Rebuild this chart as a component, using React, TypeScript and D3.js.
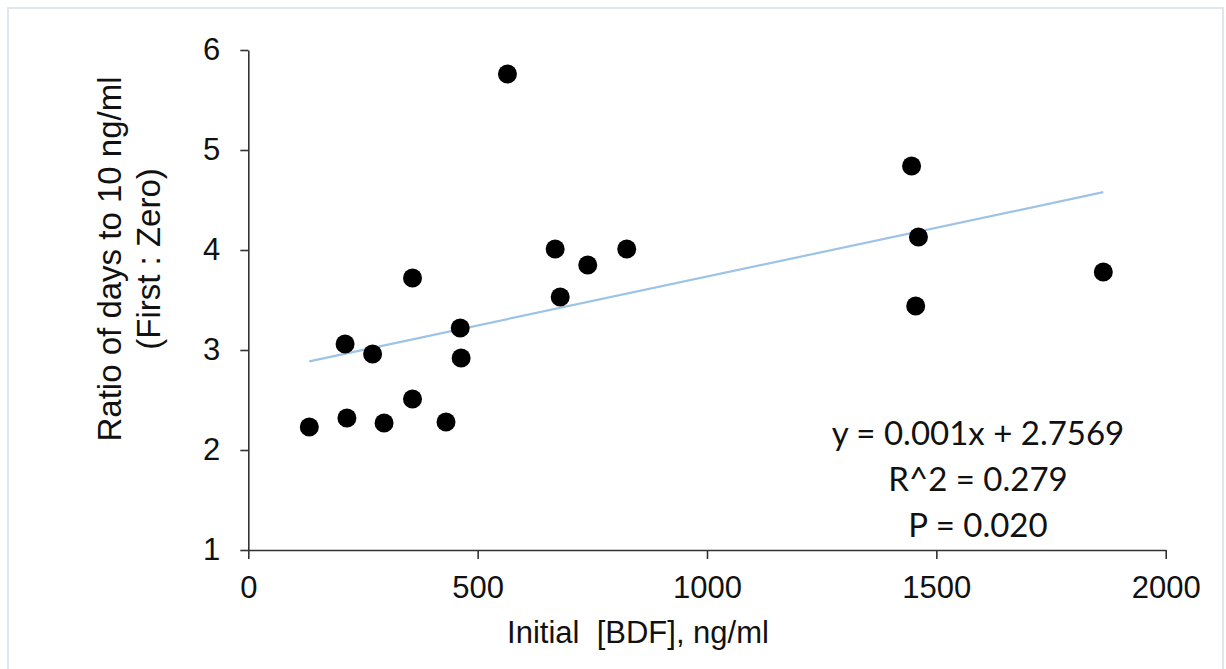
import React, { useEffect, useRef } from "react";
import * as d3 from "d3";

// initial BDF (ng/ml) and ratio of days to 10 ng/ml
const bdfValues = [133, 211, 215, 271, 296, 358, 358, 431, 462, 464, 565, 669, 680, 740, 825, 1446, 1455, 1461, 1864];
const ratioValues = [2.23, 3.06, 2.32, 2.96, 2.27, 3.72, 2.51, 2.28, 3.22, 2.92, 5.76, 4.01, 3.53, 3.85, 4.01, 4.84, 3.44, 4.13, 3.78];

const xTicks = [0, 500, 1000, 1500, 2000];
const yTicks = [1, 2, 3, 4, 5, 6];

const trendSlope = 0.000977;
const trendIntercept = 2.7569;

const statLines = ["y = 0.001x + 2.7569", "R^2 = 0.279", "P = 0.020"];

const App = () => {
  const svgRef = useRef<SVGSVGElement>(null);

  useEffect(() => {
    const svg = d3.select(svgRef.current);
    svg.selectAll("*").remove();

    const width = 1226;
    const height = 669;
    const font = "'Liberation Sans', Arial, sans-serif";

    svg.append("rect")
      .attr("x", 0).attr("y", 0)
      .attr("width", width).attr("height", height)
      .attr("fill", "#fff");

    // light frame
    svg.append("rect")
      .attr("x", 8).attr("y", 8)
      .attr("width", 1215).attr("height", 680)
      .attr("fill", "#fff")
      .attr("stroke", "#e1e5ee")
      .attr("stroke-width", 2);

    const x = d3.scaleLinear().domain([0, 2000]).range([248.3, 1165.7]);
    const y = d3.scaleLinear().domain([1, 6]).range([550, 50]);

    // y axis
    const yAxis = svg.append("g")
      .attr("transform", `translate(${x(0)},0)`)
      .call(d3.axisLeft(y).tickValues(yTicks).tickFormat(d3.format("d")).tickSize(8).tickSizeOuter(0).tickPadding(20));
    yAxis.select(".domain").attr("stroke", "#333").attr("stroke-width", 1.6);
    yAxis.selectAll(".tick line").attr("stroke", "#333").attr("stroke-width", 1.6);
    yAxis.selectAll(".tick text")
      .attr("font-family", font)
      .attr("font-size", 31)
      .attr("fill", "#111");

    // x axis
    const xAxis = svg.append("g")
      .attr("transform", `translate(0,${y(1)})`)
      .call(d3.axisBottom(x).tickValues(xTicks).tickFormat(d3.format("d")).tickSize(9).tickSizeOuter(0).tickPadding(17));
    xAxis.select(".domain").attr("stroke", "#333").attr("stroke-width", 1.6);
    xAxis.selectAll(".tick line").attr("stroke", "#333").attr("stroke-width", 1.6);
    xAxis.selectAll(".tick text")
      .attr("font-family", font)
      .attr("font-size", 31)
      .attr("fill", "#111");

    // axis titles
    svg.append("text")
      .attr("x", 638).attr("y", 643)
      .attr("text-anchor", "middle")
      .attr("font-family", font)
      .attr("font-size", 31)
      .attr("fill", "#111")
      .attr("xml:space", "preserve")
      .style("white-space", "pre")
      .text("Initial  [BDF], ng/ml");

    const yTitle = svg.append("g").attr("transform", "translate(121,259) rotate(-90)");
    yTitle.append("text")
      .attr("text-anchor", "middle")
      .attr("font-family", font)
      .attr("font-size", 33)
      .attr("fill", "#111")
      .text("Ratio of days to 10 ng/ml");
    yTitle.append("text")
      .attr("y", 39)
      .attr("text-anchor", "middle")
      .attr("font-family", font)
      .attr("font-size", 33)
      .attr("fill", "#111")
      .text("(First : Zero)");

    // trend line
    const xMin = d3.min(bdfValues) as number;
    const xMax = d3.max(bdfValues) as number;
    const line = d3.line<number>()
      .x((d) => x(d))
      .y((d) => y(trendSlope * d + trendIntercept));
    svg.append("path")
      .attr("d", line([xMin, xMax]))
      .attr("fill", "none")
      .attr("stroke", "#9dc3e6")
      .attr("stroke-width", 2.2);

    // points
    svg.selectAll(".point")
      .data(bdfValues)
      .enter()
      .append("circle")
      .attr("class", "point")
      .attr("cx", (d) => x(d))
      .attr("cy", (_, i) => y(ratioValues[i]))
      .attr("r", 9.5)
      .attr("fill", "#000");

    // regression stats
    svg.selectAll(".stat")
      .data(statLines)
      .enter()
      .append("text")
      .attr("class", "stat")
      .attr("x", 978)
      .attr("y", (_, i) => 445 + i * 46)
      .attr("text-anchor", "middle")
      .attr("font-family", "Lato, 'Open Sans', sans-serif")
      .attr("font-size", 33)
      .attr("fill", "#111")
      .text((d) => d);
  }, []);

  return (
    <svg
      ref={svgRef}
      width={1226}
      height={669}
      style={{ position: "absolute", left: 0, top: 0, display: "block" }}
    />
  );
};

export default App;
